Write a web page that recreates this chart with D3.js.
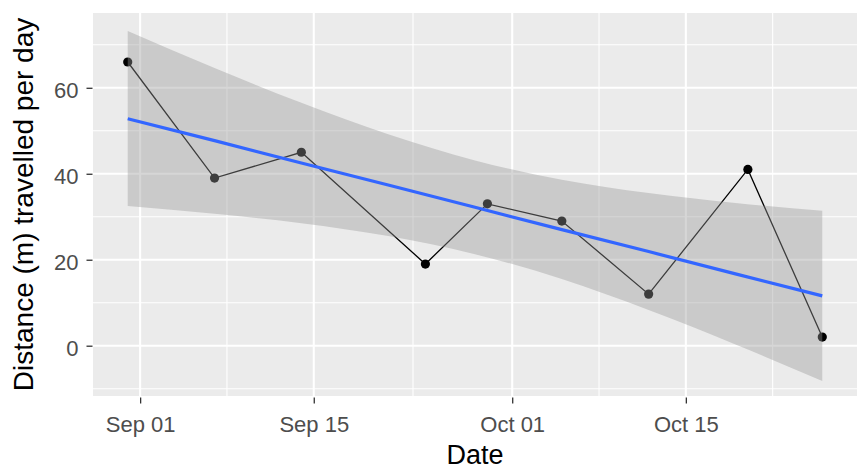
<!DOCTYPE html>
<html>
<head>
<meta charset="utf-8">
<script src="https://cdn.jsdelivr.net/npm/d3@7"></script>
<style>
  body { margin: 0; background: #fff; }
  svg { display: block; font-family: "Liberation Sans", Arial, sans-serif; }
</style>
</head>
<body>
<div id="chart"></div>
<script>
var obsDates = ["2019-08-31", "2019-09-07", "2019-09-14", "2019-09-24", "2019-09-29",
                "2019-10-05", "2019-10-12", "2019-10-20", "2019-10-26"];
var obsDist = [66, 39, 45, 19, 33, 29, 12, 41, 2];

// smoother (lm) line and its confidence band, read at weekly dates
var smoothDates = ["2019-08-31", "2019-09-07", "2019-09-14", "2019-09-21", "2019-09-28",
                   "2019-10-05", "2019-10-12", "2019-10-19", "2019-10-26"];
var smoothFit = [52.8, 47.7, 42.5, 37.4, 32.2, 27.0, 21.9, 16.7, 11.6];
var smoothUpper = [73.2, 64.6, 56.5, 49.2, 43.1, 38.6, 35.5, 33.2, 31.4];
var smoothLower = [32.5, 30.7, 28.5, 25.5, 21.3, 15.5, 8.3, 0.3, -8.2];

// axis breaks
var xTicks = ["2019-09-01", "2019-09-15", "2019-10-01", "2019-10-15"];
var xMinor = ["2019-09-08", "2019-09-23", "2019-10-08", "2019-10-22"];
var yTicks = [0, 20, 40, 60];
var yMinor = [-10, 10, 30, 50, 70];

var parse = d3.utcParse("%Y-%m-%d");

var svgWidth = 861, svgHeight = 471;
var panel = { left: 93, right: 857, top: 13, bottom: 396 };

var points = obsDates.map(function (d, i) { return { date: parse(d), v: obsDist[i] }; });
var smooth = smoothDates.map(function (d, i) {
    return { date: parse(d), fit: smoothFit[i], hi: smoothUpper[i], lo: smoothLower[i] };
});

// ggplot-style 5% expansion on the date range
var ext = d3.extent(points, function (d) { return d.date; });
var pad = (ext[1] - ext[0]) * 0.05;
var x = d3.scaleUtc()
    .domain([new Date(+ext[0] - pad), new Date(+ext[1] + pad)])
    .range([panel.left, panel.right]);

var y = d3.scaleLinear()
    .domain([-11.7, 77.4])
    .range([panel.bottom, panel.top]);

var svg = d3.select("#chart").append("svg")
    .attr("width", svgWidth)
    .attr("height", svgHeight);

// panel background
svg.append("rect")
    .attr("x", panel.left).attr("y", panel.top)
    .attr("width", panel.right - panel.left)
    .attr("height", panel.bottom - panel.top)
    .attr("fill", "#EBEBEB");

var grid = svg.append("g").attr("stroke", "#fff");

grid.selectAll(".ymin").data(yMinor).enter().append("line")
    .attr("x1", panel.left).attr("x2", panel.right)
    .attr("y1", function (d) { return y(d); }).attr("y2", function (d) { return y(d); })
    .attr("stroke-width", 1.1);
grid.selectAll(".xmin").data(xMinor).enter().append("line")
    .attr("y1", panel.top).attr("y2", panel.bottom)
    .attr("x1", function (d) { return x(parse(d)); }).attr("x2", function (d) { return x(parse(d)); })
    .attr("stroke-width", 1.1);
grid.selectAll(".ymaj").data(yTicks).enter().append("line")
    .attr("x1", panel.left).attr("x2", panel.right)
    .attr("y1", function (d) { return y(d); }).attr("y2", function (d) { return y(d); })
    .attr("stroke-width", 2.1);
grid.selectAll(".xmaj").data(xTicks).enter().append("line")
    .attr("y1", panel.top).attr("y2", panel.bottom)
    .attr("x1", function (d) { return x(parse(d)); }).attr("x2", function (d) { return x(parse(d)); })
    .attr("stroke-width", 2.1);

// data line + points
var line = d3.line()
    .x(function (d) { return x(d.date); })
    .y(function (d) { return y(d.v); });

svg.append("path")
    .datum(points)
    .attr("d", line)
    .attr("fill", "none")
    .attr("stroke", "#000")
    .attr("stroke-width", 1.3);

svg.selectAll(".pt").data(points).enter().append("circle")
    .attr("cx", function (d) { return x(d.date); })
    .attr("cy", function (d) { return y(d.v); })
    .attr("r", 4.6)
    .attr("fill", "#000");

// confidence band drawn over the points, like geom_smooth
var band = d3.area()
    .curve(d3.curveMonotoneX)
    .x(function (d) { return x(d.date); })
    .y0(function (d) { return y(d.lo); })
    .y1(function (d) { return y(d.hi); });

svg.append("path")
    .datum(smooth)
    .attr("d", band)
    .attr("fill", "#999999")
    .attr("fill-opacity", 0.4);

var fitLine = d3.line()
    .x(function (d) { return x(d.date); })
    .y(function (d) { return y(d.fit); });

svg.append("path")
    .datum(smooth)
    .attr("d", fitLine)
    .attr("fill", "none")
    .attr("stroke", "#3366FF")
    .attr("stroke-width", 3.2);

// axes
var xAxis = d3.axisBottom(x)
    .tickValues(xTicks.map(parse))
    .tickFormat(d3.utcFormat("%b %d"))
    .tickSize(6)
    .tickPadding(13);

var gx = svg.append("g")
    .attr("transform", "translate(0," + (panel.bottom + 1.5) + ")")
    .call(xAxis);

var yAxis = d3.axisLeft(y)
    .tickValues(yTicks)
    .tickSize(6)
    .tickPadding(8);

var gy = svg.append("g")
    .attr("transform", "translate(" + (panel.left - 0.5) + ",0)")
    .call(yAxis);

[gx, gy].forEach(function (g) {
    g.select(".domain").remove();
    g.selectAll(".tick line").attr("stroke", "#333333").attr("stroke-width", 1.3);
    g.selectAll(".tick text")
        .attr("fill", "#4D4D4D")
        .style("font-size", "22px")
        .style("font-family", "'Liberation Sans', Arial, sans-serif");
});
gy.selectAll(".tick text").attr("dy", "0.45em");

// axis titles
svg.append("text")
    .attr("x", (panel.left + panel.right) / 2)
    .attr("y", 464)
    .attr("text-anchor", "middle")
    .attr("fill", "#000")
    .style("font-size", "27px")
    .text("Date");

svg.append("text")
    .attr("transform", "translate(33," + ((panel.top + panel.bottom) / 2) + ") rotate(-90)")
    .attr("text-anchor", "middle")
    .attr("fill", "#000")
    .style("font-size", "28px")
    .text("Distance (m) travelled per day");
</script>
</body>
</html>
